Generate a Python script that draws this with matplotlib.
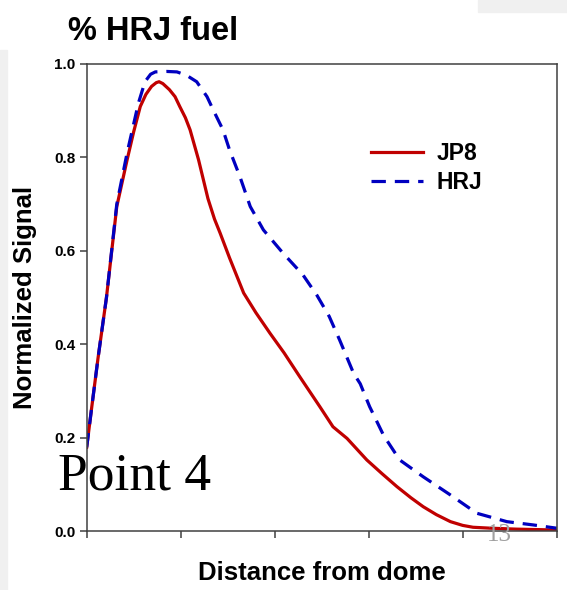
import matplotlib
matplotlib.use('Agg')
import matplotlib.pyplot as plt
from matplotlib.patches import Rectangle

# distance in tick units (0..5), signal normalised
jp8_x = [0.0, 0.05, 0.12, 0.21, 0.32, 0.43, 0.50, 0.57, 0.63, 0.69, 0.74, 0.77, 0.81, 0.88,
         0.94, 0.99, 1.05, 1.10, 1.19, 1.29, 1.36, 1.42, 1.52, 1.60, 1.67, 1.80, 1.95, 2.10,
         2.27, 2.48, 2.62, 2.77, 2.98, 3.14, 3.30, 3.45, 3.58, 3.72, 3.87, 4.00, 4.11, 4.30,
         4.57, 4.80, 5.0]
jp8_y = [0.18, 0.26, 0.37, 0.50, 0.695, 0.795, 0.855, 0.909, 0.935, 0.952, 0.960, 0.962, 0.958,
         0.945, 0.93, 0.909, 0.885, 0.859, 0.795, 0.712, 0.668, 0.638, 0.585, 0.545, 0.51, 0.468,
         0.424, 0.382, 0.330, 0.267, 0.224, 0.199, 0.153, 0.124, 0.096, 0.072, 0.053, 0.036,
         0.021, 0.013, 0.009, 0.007, 0.005, 0.004, 0.003]

hrj_x = [0.0, 0.05, 0.12, 0.21, 0.32, 0.43, 0.55, 0.62, 0.68, 0.73, 0.85, 0.96, 1.06, 1.17,
         1.28, 1.35, 1.45, 1.52, 1.63, 1.74, 1.88, 2.09, 2.30, 2.45, 2.58, 2.69, 2.84, 2.91,
         3.01, 3.16, 3.33, 3.58, 3.87, 4.15, 4.47, 4.75, 5.0]
hrj_y = [0.18, 0.26, 0.37, 0.50, 0.70, 0.81, 0.916, 0.962, 0.978, 0.983, 0.984, 0.983, 0.976,
         0.962, 0.93, 0.90, 0.859, 0.816, 0.759, 0.695, 0.645, 0.595, 0.549, 0.505, 0.46, 0.41,
         0.338, 0.316, 0.267, 0.205, 0.153, 0.117, 0.078, 0.039, 0.021, 0.014, 0.007]

y_ticks = [0.0, 0.2, 0.4, 0.6, 0.8, 1.0]
x_ticks = [0, 1, 2, 3, 4, 5]

plt.rcParams['font.family'] = ['Liberation Sans', 'DejaVu Sans']

fig = plt.figure(figsize=(5.67, 5.90), dpi=100)
fig.patches.append(Rectangle((0, 0), 7 / 567, 540 / 590, transform=fig.transFigure,
                             color='#f0f0f0', zorder=0))
fig.patches.append(Rectangle((478 / 567, 1 - 12 / 590), 89 / 567, 12 / 590,
                             transform=fig.transFigure, color='#f0f0f0', zorder=0))

ax = fig.add_axes([0.1529, 0.0992, 0.8289, 0.7924])
ax.plot(jp8_x, jp8_y, color='#c00000', lw=2.3, label='JP8')
ax.plot(hrj_x, hrj_y, color='#0000c0', lw=2.3, dashes=(4.5, 2.8), label='HRJ')

ax.set_xlim(0, 5)
ax.set_ylim(0, 1.0)
ax.set_xticks(x_ticks)
ax.set_xticklabels([])
ax.set_yticks(y_ticks)
ax.set_yticklabels(['%.1f' % v for v in y_ticks], fontsize=11, fontweight='bold')
ax.tick_params(direction='out', length=5, width=1.1, color='#404040', pad=3)
for s in ax.spines.values():
    s.set_color('#404040')
    s.set_linewidth(1.1)

ax.legend(loc='upper left', bbox_to_anchor=(0.56, 0.878), frameon=False,
          prop={'weight': 'bold', 'size': 16.5}, handlelength=2.3, handletextpad=0.6,
          labelspacing=0.3)

fig.text(68 / 567, 1 - 40 / 590, '% HRJ fuel', fontsize=23.5, fontweight='bold', va='baseline')
fig.text(25 / 567, 0.4966, 'Normalized Signal', rotation=90, fontsize=18.5, fontweight='bold',
         ha='center', va='center')
fig.text(322 / 567, 1 - 573 / 590, 'Distance from dome', fontsize=18.5, fontweight='bold',
         ha='center', va='center')
fig.text(58 / 567, 1 - 489 / 590, 'Point 4', fontsize=38.5, family='Liberation Serif',
         va='baseline')
fig.text(499 / 567, 1 - 541 / 590, '13', fontsize=18, family='Liberation Serif',
         color='#a0a0a0', ha='center', va='baseline')

fig.savefig('out.png', dpi=100)
